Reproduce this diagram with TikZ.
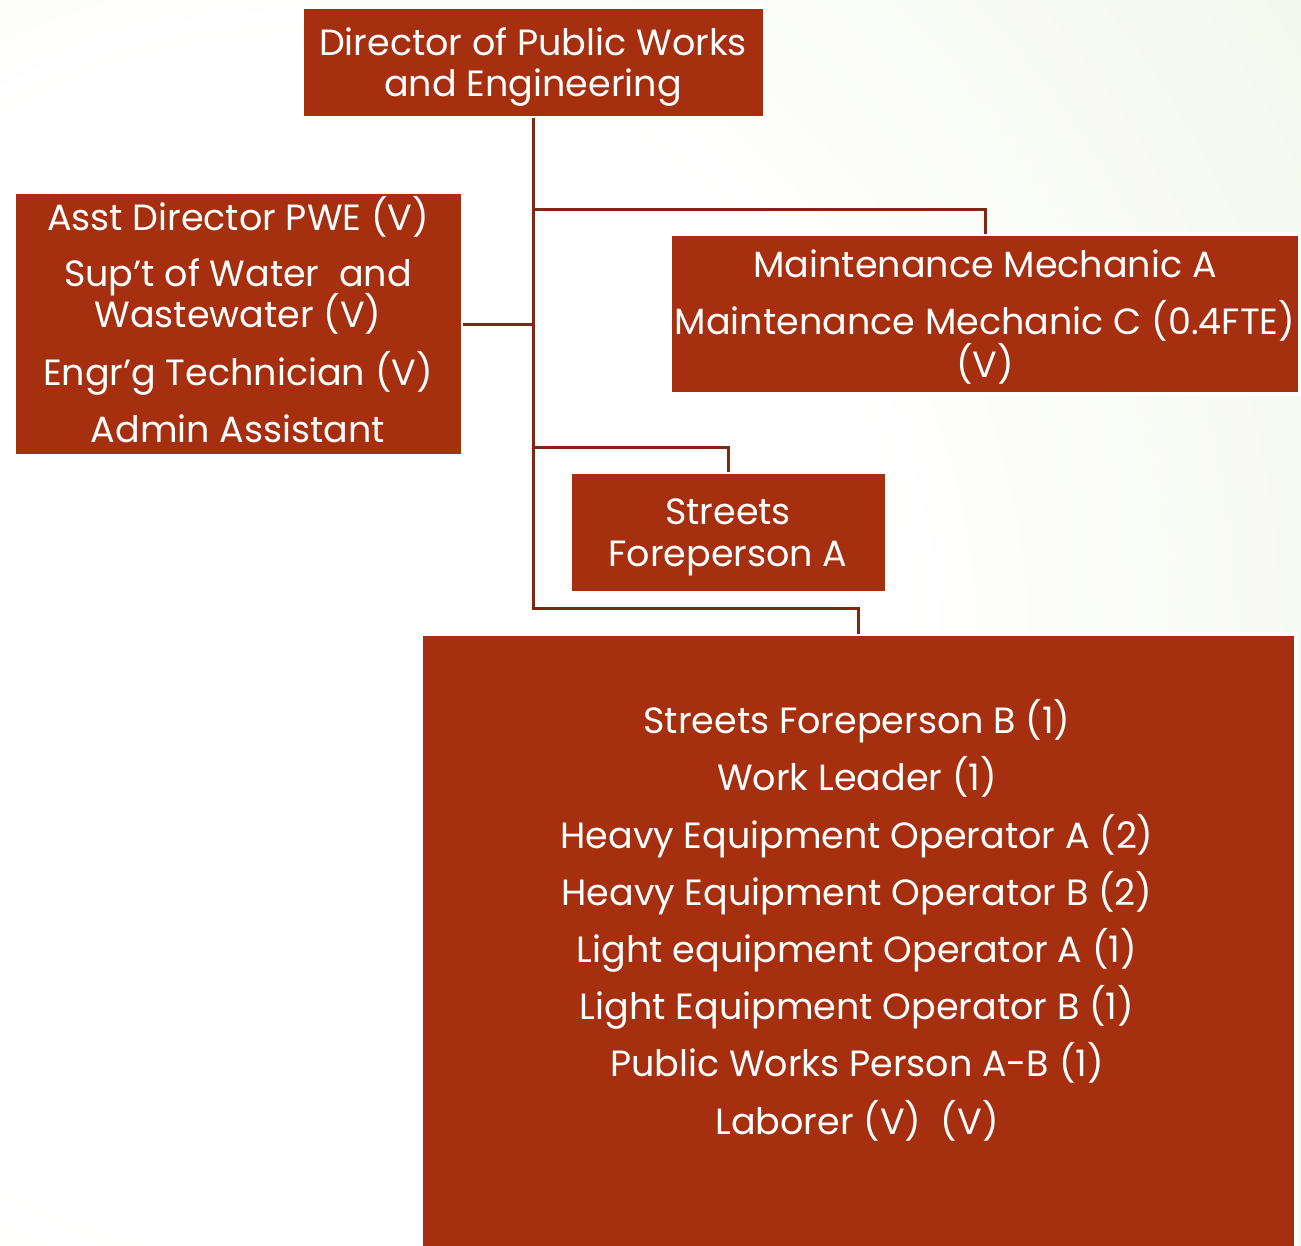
\documentclass[tikz,border=0pt]{standalone}
\usepackage{fontspec}
\setmainfont{Poppins}
\usetikzlibrary{positioning}
\definecolor{boxred}{RGB}{166,47,16}
\definecolor{connred}{RGB}{128,38,20}
\definecolor{bggreen}{RGB}{220,232,196}
\pgfdeclareradialshading{bgshade}{\pgfpoint{0bp}{0bp}}{color(0bp)=(white);color(12bp)=(white);color(48bp)=(bggreen);color(50bp)=(bggreen)}
\tikzset{
  orgbox/.style={rectangle, fill=boxred, draw=white, line width=4pt, inner sep=0pt, outer sep=0pt},
  conn/.style={draw=connred, line width=3pt},
  lbl/.style={text=white, anchor=base, inner sep=0pt, font=\fontsize{36.5}{42}\selectfont}
}
\begin{document}
\begin{tikzpicture}[x=1pt,y=-1pt]
\useasboundingbox (0,0) rectangle (1301,1245);
\begin{scope}
\clip (0,0) rectangle (1301,1245);
\shade[shading=bgshade] (300,650) circle (1250);
\end{scope}
% boxes
\node[orgbox, minimum width=463pt, minimum height=111pt] (dir) at (533.5,62.5) {};
\node[orgbox, minimum width=449pt, minimum height=264pt] (left) at (238.5,324) {};
\node[orgbox, minimum width=630pt, minimum height=160pt] (maint) at (985,314) {};
\node[orgbox, minimum width=317pt, minimum height=121pt] (streets) at (728.5,532.5) {};
\node[orgbox, minimum width=875pt, minimum height=640pt] (bottom) at (858.5,954) {};
% connectors
\draw[conn] (dir.south) |- ([yshift=25pt]maint.north) -- (maint.north);
\draw[conn] (left.east) -- (left.east -| dir.south);
\draw[conn] (dir.south) |- ([yshift=25pt]streets.north) -- (streets.north);
\draw[conn] (dir.south) |- ([yshift=26pt]bottom.north) -- (bottom.north);
% labels
\node[lbl] (d1) at (533,55) {Director of Public Works};
\node[lbl] (d2) at (533,96) {and Engineering};
\node[lbl] (l1) at (238,230) {Asst Director PWE (V)};
\node[lbl] (l2) at (238,286) {Sup’t of Water\ \ and};
\node[lbl] (l3) at (238,327) {Wastewater (V)};
\node[lbl] (l4) at (238,385) {Engr’g Technician (V)};
\node[lbl] (l5) at (238,442) {Admin Assistant};
\node[lbl] (m1) at (985,277) {Maintenance Mechanic A};
\node[lbl] (m2) at (985,334) {Maintenance Mechanic C (0.4FTE)};
\node[lbl] (m3) at (985,377) {(V)};
\node[lbl] (s1) at (728,524) {Streets};
\node[lbl] (s2) at (728,566) {Foreperson A};
\node[lbl] (b1) at (857,733) {Streets Foreperson B (1)};
\node[lbl] (b2) at (857,790) {Work Leader (1)};
\node[lbl] (b3) at (857,848) {Heavy Equipment Operator A (2)};
\node[lbl] (b4) at (857,905) {Heavy Equipment Operator B (2)};
\node[lbl] (b5) at (857,962) {Light equipment Operator A (1)};
\node[lbl] (b6) at (857,1019) {Light Equipment Operator B (1)};
\node[lbl] (b7) at (857,1076) {Public Works Person A-B (1)};
\node[lbl] (b8) at (857,1134) {Laborer (V)\ \ (V)};
\end{tikzpicture}
\end{document}
